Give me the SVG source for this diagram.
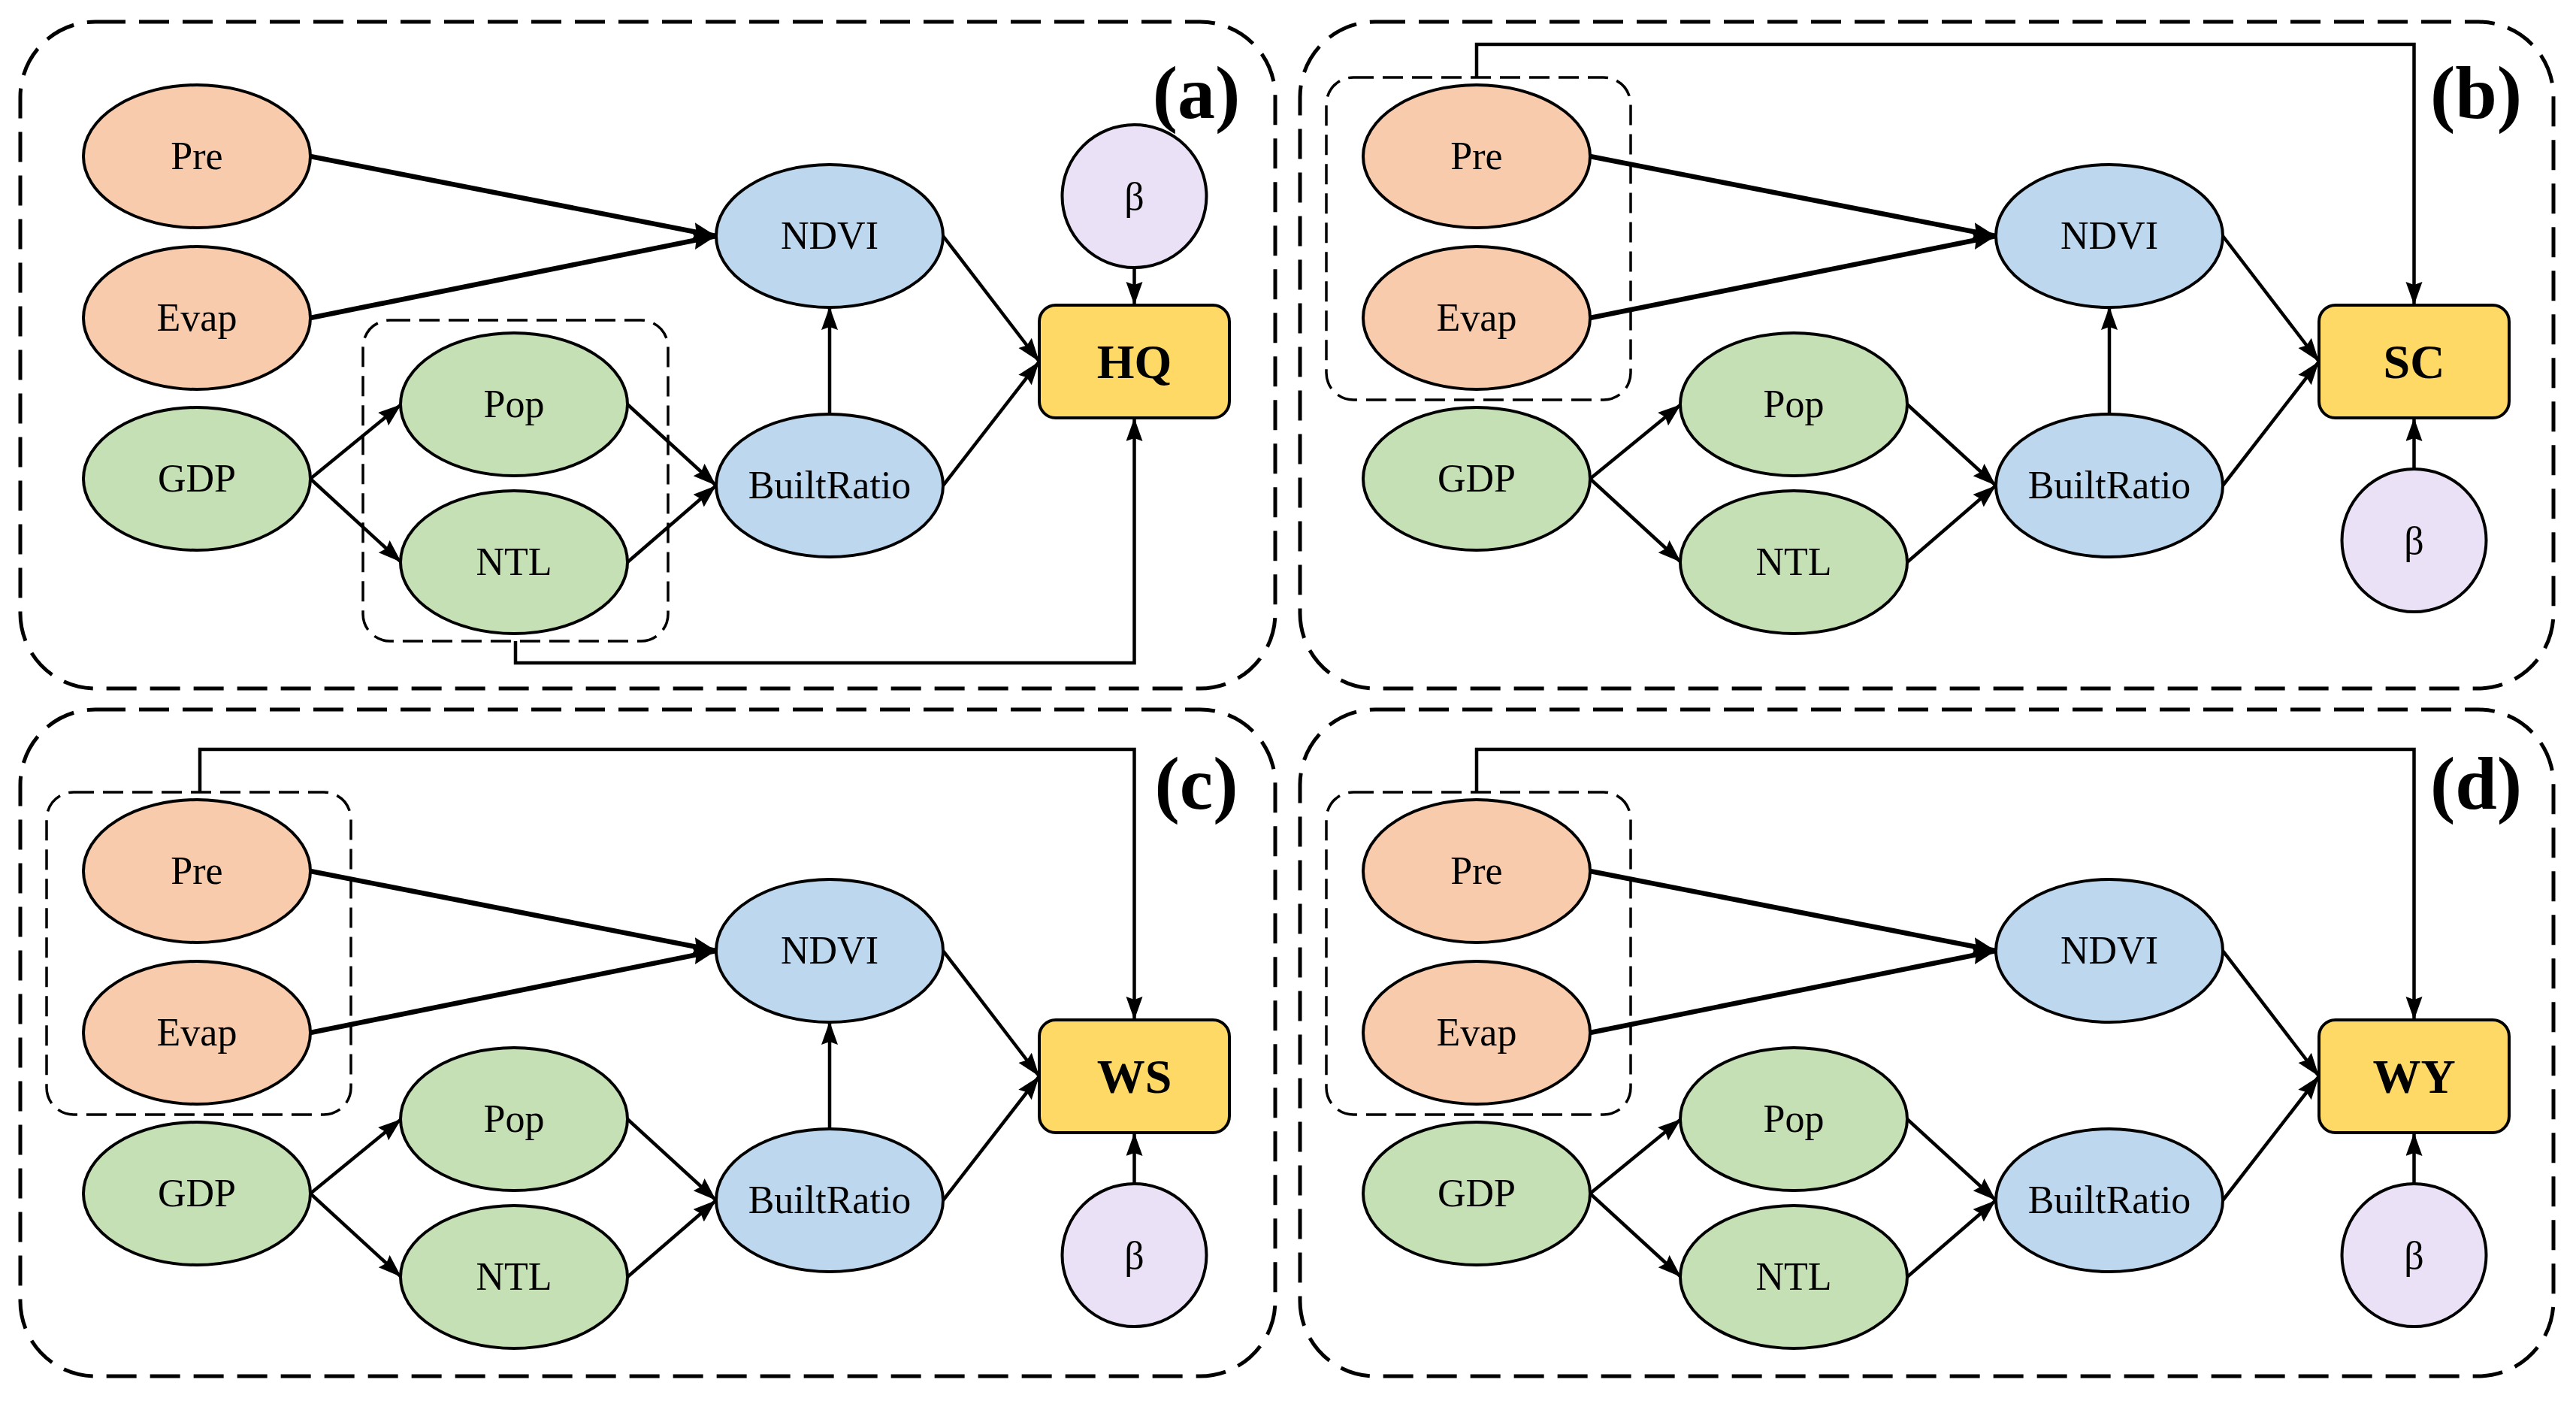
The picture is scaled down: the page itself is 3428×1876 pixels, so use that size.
<svg xmlns="http://www.w3.org/2000/svg" width="3428" height="1876" viewBox="0 0 3428 1876">
<style>
.frame{fill:none;stroke:#000;stroke-width:5;stroke-dasharray:40 18}
.group{fill:none;stroke:#000;stroke-width:3.5;stroke-dasharray:27 12}
.n{stroke:#000;stroke-width:4}
.orange{fill:#F8CBAD}
.green{fill:#C5E0B4}
.blue{fill:#BDD7EE}
.beta{fill:#EBE1F6}
.out{fill:#FFD966;stroke:#000;stroke-width:4}
.t{font-family:"Liberation Serif","Times New Roman",serif;font-size:52px;text-anchor:middle;fill:#000}
.tb{font-family:"Liberation Serif","Times New Roman",serif;font-size:64px;font-weight:bold;text-anchor:middle;fill:#000}
.lab{font-family:"Liberation Serif","Times New Roman",serif;font-size:100px;font-weight:bold;text-anchor:middle;fill:#000}
.e{fill:none;stroke:#000;stroke-width:4.5;marker-end:url(#arr)}
.eb{fill:none;stroke:#000;stroke-width:6.5;marker-end:url(#arrB)}
</style>
<defs>
<marker id="arr" markerUnits="userSpaceOnUse" markerWidth="34" markerHeight="24" refX="31" refY="11" orient="auto"><path d="M0,0 L31,11 L0,22 L4,11 z" fill="#000"/></marker>
<marker id="arrB" markerUnits="userSpaceOnUse" markerWidth="34" markerHeight="28" refX="31" refY="12" orient="auto"><path d="M0,0 L31,12 L0,24 L4,12 z" fill="#000"/></marker>
</defs>
<rect width="3428" height="1876" fill="#fff"/>

<g id="frames">
<rect class="frame" x="27" y="29" width="1670" height="887" rx="100"/>
<rect class="frame" x="1730" y="29" width="1668" height="887" rx="100"/>
<rect class="frame" x="27" y="944" width="1670" height="887" rx="100"/>
<rect class="frame" x="1730" y="944" width="1668" height="887" rx="100"/>
</g>
<g id="labels">
<text class="lab" x="1592" y="157">(a)</text>
<text class="lab" x="3295" y="157">(b)</text>
<text class="lab" x="1592" y="1076">(c)</text>
<text class="lab" x="3295" y="1076">(d)</text>
</g>

<!-- Panel (a) -->
<g id="panel-a">
<rect class="group" x="483" y="426" width="406" height="427" rx="36"/>
<g id="a-connectors">
<path class="eb" d="M413,208 L953,314"/>
<path class="eb" d="M413,423 L953,314"/>
<path class="e" d="M413,637 L534,538"/>
<path class="e" d="M413,637 L534,748"/>
<path class="e" d="M835,538 L953,646"/>
<path class="e" d="M835,748 L953,646"/>
<path class="e" d="M1104,552 L1104,408"/>
<path class="e" d="M1255,314 L1383,481"/>
<path class="e" d="M1255,646 L1383,481"/>
<path class="e" d="M1509.5,356 L1509.5,406"/>
<path class="e" d="M686,853 V882 H1509.5 V556"/>
</g>
<g id="a-pre"><ellipse class="n orange" cx="262" cy="208" rx="151" ry="95"/><text class="t" x="262" y="225">Pre</text></g>
<g id="a-evap"><ellipse class="n orange" cx="262" cy="423" rx="151" ry="95"/><text class="t" x="262" y="440">Evap</text></g>
<g id="a-gdp"><ellipse class="n green" cx="262" cy="637" rx="151" ry="95"/><text class="t" x="262" y="654">GDP</text></g>
<g id="a-pop"><ellipse class="n green" cx="684" cy="538" rx="151" ry="95"/><text class="t" x="684" y="555">Pop</text></g>
<g id="a-ntl"><ellipse class="n green" cx="684" cy="748" rx="151" ry="95"/><text class="t" x="684" y="765">NTL</text></g>
<g id="a-ndvi"><ellipse class="n blue" cx="1104" cy="314" rx="151" ry="95"/><text class="t" x="1104" y="331">NDVI</text></g>
<g id="a-builtratio"><ellipse class="n blue" cx="1104" cy="646" rx="151" ry="95"/><text class="t" x="1104" y="663">BuiltRatio</text></g>
<g id="a-beta"><ellipse class="n beta" cx="1509.5" cy="261" rx="96" ry="95"/><text class="t" x="1509.5" y="279">β</text></g>
<g id="a-hq"><rect class="out" x="1383" y="406" width="253" height="150" rx="22"/><text class="tb" x="1509.5" y="503">HQ</text></g>
</g>

<!-- Panel (b) -->
<g id="panel-b" transform="translate(1703,0)">
<rect class="group" x="62" y="103" width="405" height="429" rx="36"/>
<g id="b-connectors">
<path class="e" d="M262,103 V59 H1509.5 V406"/>
<path class="eb" d="M413,208 L953,314"/>
<path class="eb" d="M413,423 L953,314"/>
<path class="e" d="M413,637 L534,538"/>
<path class="e" d="M413,637 L534,748"/>
<path class="e" d="M835,538 L953,646"/>
<path class="e" d="M835,748 L953,646"/>
<path class="e" d="M1104,552 L1104,408"/>
<path class="e" d="M1255,314 L1383,481"/>
<path class="e" d="M1255,646 L1383,481"/>
<path class="e" d="M1509.5,624 L1509.5,556"/>
</g>
<g id="b-pre"><ellipse class="n orange" cx="262" cy="208" rx="151" ry="95"/><text class="t" x="262" y="225">Pre</text></g>
<g id="b-evap"><ellipse class="n orange" cx="262" cy="423" rx="151" ry="95"/><text class="t" x="262" y="440">Evap</text></g>
<g id="b-gdp"><ellipse class="n green" cx="262" cy="637" rx="151" ry="95"/><text class="t" x="262" y="654">GDP</text></g>
<g id="b-pop"><ellipse class="n green" cx="684" cy="538" rx="151" ry="95"/><text class="t" x="684" y="555">Pop</text></g>
<g id="b-ntl"><ellipse class="n green" cx="684" cy="748" rx="151" ry="95"/><text class="t" x="684" y="765">NTL</text></g>
<g id="b-ndvi"><ellipse class="n blue" cx="1104" cy="314" rx="151" ry="95"/><text class="t" x="1104" y="331">NDVI</text></g>
<g id="b-builtratio"><ellipse class="n blue" cx="1104" cy="646" rx="151" ry="95"/><text class="t" x="1104" y="663">BuiltRatio</text></g>
<g id="b-beta"><ellipse class="n beta" cx="1509.5" cy="719" rx="96" ry="95"/><text class="t" x="1509.5" y="737">β</text></g>
<g id="b-sc"><rect class="out" x="1383" y="406" width="253" height="150" rx="22"/><text class="tb" x="1509.5" y="503">SC</text></g>
</g>

<!-- Panel (c) -->
<g id="panel-c" transform="translate(0,951)">
<rect class="group" x="62" y="103" width="405" height="429" rx="36"/>
<g id="c-connectors">
<path class="e" d="M266,103 V46 H1509.5 V406"/>
<path class="eb" d="M413,208 L953,314"/>
<path class="eb" d="M413,423 L953,314"/>
<path class="e" d="M413,637 L534,538"/>
<path class="e" d="M413,637 L534,748"/>
<path class="e" d="M835,538 L953,646"/>
<path class="e" d="M835,748 L953,646"/>
<path class="e" d="M1104,552 L1104,408"/>
<path class="e" d="M1255,314 L1383,481"/>
<path class="e" d="M1255,646 L1383,481"/>
<path class="e" d="M1509.5,624 L1509.5,556"/>
</g>
<g id="c-pre"><ellipse class="n orange" cx="262" cy="208" rx="151" ry="95"/><text class="t" x="262" y="225">Pre</text></g>
<g id="c-evap"><ellipse class="n orange" cx="262" cy="423" rx="151" ry="95"/><text class="t" x="262" y="440">Evap</text></g>
<g id="c-gdp"><ellipse class="n green" cx="262" cy="637" rx="151" ry="95"/><text class="t" x="262" y="654">GDP</text></g>
<g id="c-pop"><ellipse class="n green" cx="684" cy="538" rx="151" ry="95"/><text class="t" x="684" y="555">Pop</text></g>
<g id="c-ntl"><ellipse class="n green" cx="684" cy="748" rx="151" ry="95"/><text class="t" x="684" y="765">NTL</text></g>
<g id="c-ndvi"><ellipse class="n blue" cx="1104" cy="314" rx="151" ry="95"/><text class="t" x="1104" y="331">NDVI</text></g>
<g id="c-builtratio"><ellipse class="n blue" cx="1104" cy="646" rx="151" ry="95"/><text class="t" x="1104" y="663">BuiltRatio</text></g>
<g id="c-beta"><ellipse class="n beta" cx="1509.5" cy="719" rx="96" ry="95"/><text class="t" x="1509.5" y="737">β</text></g>
<g id="c-ws"><rect class="out" x="1383" y="406" width="253" height="150" rx="22"/><text class="tb" x="1509.5" y="503">WS</text></g>
</g>

<!-- Panel (d) -->
<g id="panel-d" transform="translate(1703,951)">
<rect class="group" x="62" y="103" width="405" height="429" rx="36"/>
<g id="d-connectors">
<path class="e" d="M262,103 V46 H1509.5 V406"/>
<path class="eb" d="M413,208 L953,314"/>
<path class="eb" d="M413,423 L953,314"/>
<path class="e" d="M413,637 L534,538"/>
<path class="e" d="M413,637 L534,748"/>
<path class="e" d="M835,538 L953,646"/>
<path class="e" d="M835,748 L953,646"/>
<path class="e" d="M1255,314 L1383,481"/>
<path class="e" d="M1255,646 L1383,481"/>
<path class="e" d="M1509.5,624 L1509.5,556"/>
</g>
<g id="d-pre"><ellipse class="n orange" cx="262" cy="208" rx="151" ry="95"/><text class="t" x="262" y="225">Pre</text></g>
<g id="d-evap"><ellipse class="n orange" cx="262" cy="423" rx="151" ry="95"/><text class="t" x="262" y="440">Evap</text></g>
<g id="d-gdp"><ellipse class="n green" cx="262" cy="637" rx="151" ry="95"/><text class="t" x="262" y="654">GDP</text></g>
<g id="d-pop"><ellipse class="n green" cx="684" cy="538" rx="151" ry="95"/><text class="t" x="684" y="555">Pop</text></g>
<g id="d-ntl"><ellipse class="n green" cx="684" cy="748" rx="151" ry="95"/><text class="t" x="684" y="765">NTL</text></g>
<g id="d-ndvi"><ellipse class="n blue" cx="1104" cy="314" rx="151" ry="95"/><text class="t" x="1104" y="331">NDVI</text></g>
<g id="d-builtratio"><ellipse class="n blue" cx="1104" cy="646" rx="151" ry="95"/><text class="t" x="1104" y="663">BuiltRatio</text></g>
<g id="d-beta"><ellipse class="n beta" cx="1509.5" cy="719" rx="96" ry="95"/><text class="t" x="1509.5" y="737">β</text></g>
<g id="d-wy"><rect class="out" x="1383" y="406" width="253" height="150" rx="22"/><text class="tb" x="1509.5" y="503">WY</text></g>
</g>
</svg>
